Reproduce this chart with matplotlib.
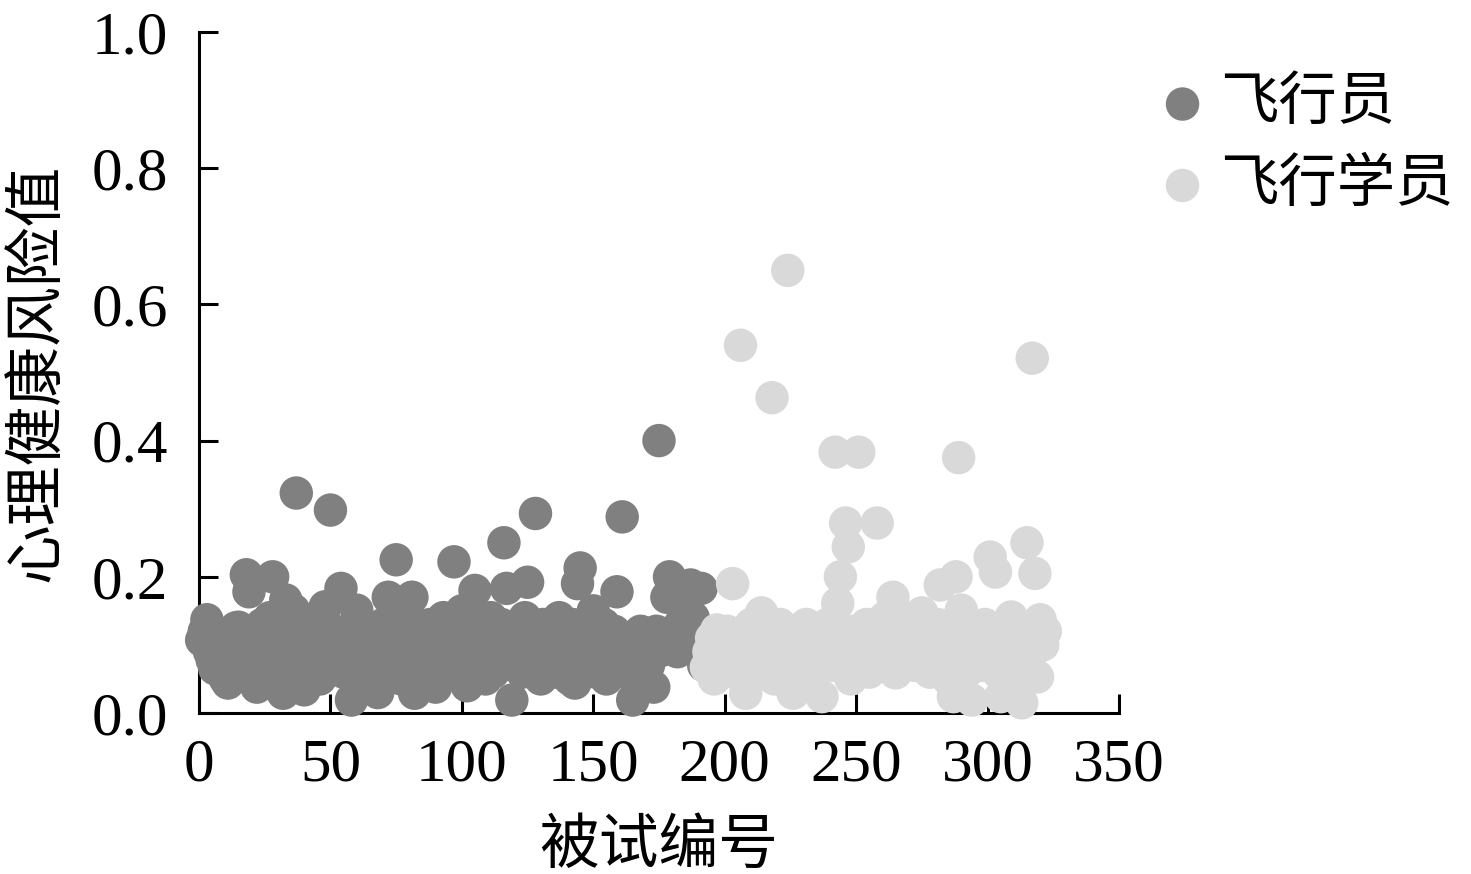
import matplotlib
matplotlib.use('Agg')
import matplotlib.pyplot as plt
import numpy as np

# 心理健康风险值
pilot_y = [
    0.107, 0.12, 0.137, 0.09, 0.078, 0.065, 0.10, 0.085, 0.06, 0.05, 0.044, 0.07,
    0.11, 0.125, 0.126, 0.09, 0.06, 0.203, 0.178, 0.08, 0.05, 0.038, 0.10, 0.13,
    0.07, 0.06, 0.14, 0.20, 0.11, 0.09, 0.045, 0.029, 0.166, 0.12, 0.08, 0.151,
    0.323, 0.10, 0.07, 0.034, 0.13, 0.09, 0.06, 0.11, 0.08, 0.05, 0.14, 0.156,
    0.10, 0.298, 0.07, 0.12, 0.09, 0.183, 0.06, 0.11, 0.08, 0.019, 0.10, 0.151,
    0.07, 0.05, 0.12, 0.09, 0.06, 0.11, 0.04, 0.03, 0.08, 0.13, 0.10, 0.17,
    0.122, 0.06, 0.225, 0.09, 0.05, 0.11, 0.08, 0.14, 0.17, 0.029, 0.10, 0.07,
    0.12, 0.06, 0.09, 0.13, 0.05, 0.038, 0.11, 0.08, 0.14, 0.10, 0.07, 0.12,
    0.222, 0.09, 0.06, 0.15, 0.11, 0.04, 0.13, 0.08, 0.18, 0.10, 0.07, 0.12,
    0.05, 0.09, 0.14, 0.06, 0.11, 0.08, 0.13, 0.25, 0.183, 0.10, 0.019, 0.07,
    0.12, 0.09, 0.06, 0.14, 0.192, 0.10, 0.08, 0.293, 0.11, 0.05, 0.13, 0.09,
    0.07, 0.12, 0.10, 0.06, 0.14, 0.08, 0.11, 0.09, 0.05, 0.13, 0.044, 0.19,
    0.213, 0.10, 0.07, 0.12, 0.09, 0.15, 0.06, 0.11, 0.08, 0.13, 0.05, 0.10,
    0.07, 0.12, 0.178, 0.09, 0.288, 0.06, 0.11, 0.08, 0.019, 0.10, 0.05, 0.12,
    0.09, 0.11, 0.07, 0.10, 0.038, 0.12, 0.40, 0.092, 0.11, 0.17, 0.20, 0.10,
    0.12, 0.09, 0.13, 0.18, 0.11, 0.15, 0.188, 0.14, 0.10, 0.12, 0.183, 0.07,
]
student_y = [
    0.067, 0.09, 0.11, 0.05, 0.122, 0.08, 0.10, 0.06, 0.12, 0.09, 0.19, 0.07,
    0.11, 0.54, 0.08, 0.029, 0.10, 0.13, 0.06, 0.09, 0.12, 0.147, 0.07, 0.10,
    0.08, 0.463, 0.05, 0.11, 0.13, 0.09, 0.06, 0.65, 0.10, 0.029, 0.12, 0.08,
    0.11, 0.07, 0.13, 0.09, 0.10, 0.06, 0.12, 0.08, 0.024, 0.11, 0.13, 0.09,
    0.07, 0.383, 0.161, 0.20, 0.10, 0.279, 0.244, 0.05, 0.12, 0.08, 0.383, 0.11,
    0.09, 0.13, 0.06, 0.068, 0.10, 0.279, 0.12, 0.08, 0.14, 0.09, 0.11, 0.17,
    0.059, 0.13, 0.10, 0.08, 0.12, 0.09, 0.11, 0.07, 0.14, 0.10, 0.147, 0.08,
    0.12, 0.06, 0.10, 0.09, 0.13, 0.188, 0.07, 0.11, 0.05, 0.08, 0.024, 0.20,
    0.375, 0.151, 0.10, 0.06, 0.09, 0.019, 0.12, 0.08, 0.11, 0.07, 0.13, 0.09,
    0.229, 0.10, 0.207, 0.06, 0.024, 0.12, 0.08, 0.11, 0.141, 0.07, 0.09, 0.05,
    0.015, 0.11, 0.25, 0.08, 0.521, 0.205, 0.053, 0.137, 0.10, 0.12,
]
pilot_x = np.arange(1, len(pilot_y) + 1)
student_x = np.arange(len(pilot_y) + 1, len(pilot_y) + len(student_y) + 1)

x_ticks = [0, 50, 100, 150, 200, 250, 300, 350]
y_ticks = [0.0, 0.2, 0.4, 0.6, 0.8, 1.0]

cjk = ['Noto Sans CJK SC', 'DejaVu Sans']
num_font = 'Liberation Serif'

fig = plt.figure(figsize=(14.71, 8.74), dpi=100)
ax = fig.add_axes([0.1353, 0.1842, 0.6254, 0.7792])

ax.scatter(pilot_x, pilot_y, s=580, color='#808080', edgecolors='none',
           label='飞行员', clip_on=False, zorder=3)
ax.scatter(student_x, student_y, s=580, color='#d9d9d9', edgecolors='none',
           label='飞行学员', clip_on=False, zorder=4)

ax.set_xlim(0, 350)
ax.set_ylim(0, 1.0)
ax.set_xticks(x_ticks)
ax.set_yticks(y_ticks)
ax.set_xticklabels([str(t) for t in x_ticks], fontname=num_font, fontsize=44)
ax.set_yticklabels(['%.1f' % t for t in y_ticks], fontname=num_font, fontsize=44)

for side in ['top', 'right']:
    ax.spines[side].set_visible(False)
for side in ['left', 'bottom']:
    ax.spines[side].set_linewidth(2.2)
ax.tick_params(axis='both', direction='in', length=14, width=2.2)
ax.tick_params(axis='y', pad=22)
ax.tick_params(axis='x', pad=18)

ax.set_xlabel('被试编号', family=cjk, fontsize=43, labelpad=16)
ax.set_ylabel('心理健康风险值', family=cjk, fontsize=43, labelpad=18)

leg = ax.legend(loc='upper left', bbox_to_anchor=(1.012, 0.975), frameon=False,
                prop={'family': cjk, 'size': 42}, handletextpad=0.15,
                labelspacing=0.35, borderaxespad=0, handlelength=1.0)

fig.savefig('out.png', dpi=100)
